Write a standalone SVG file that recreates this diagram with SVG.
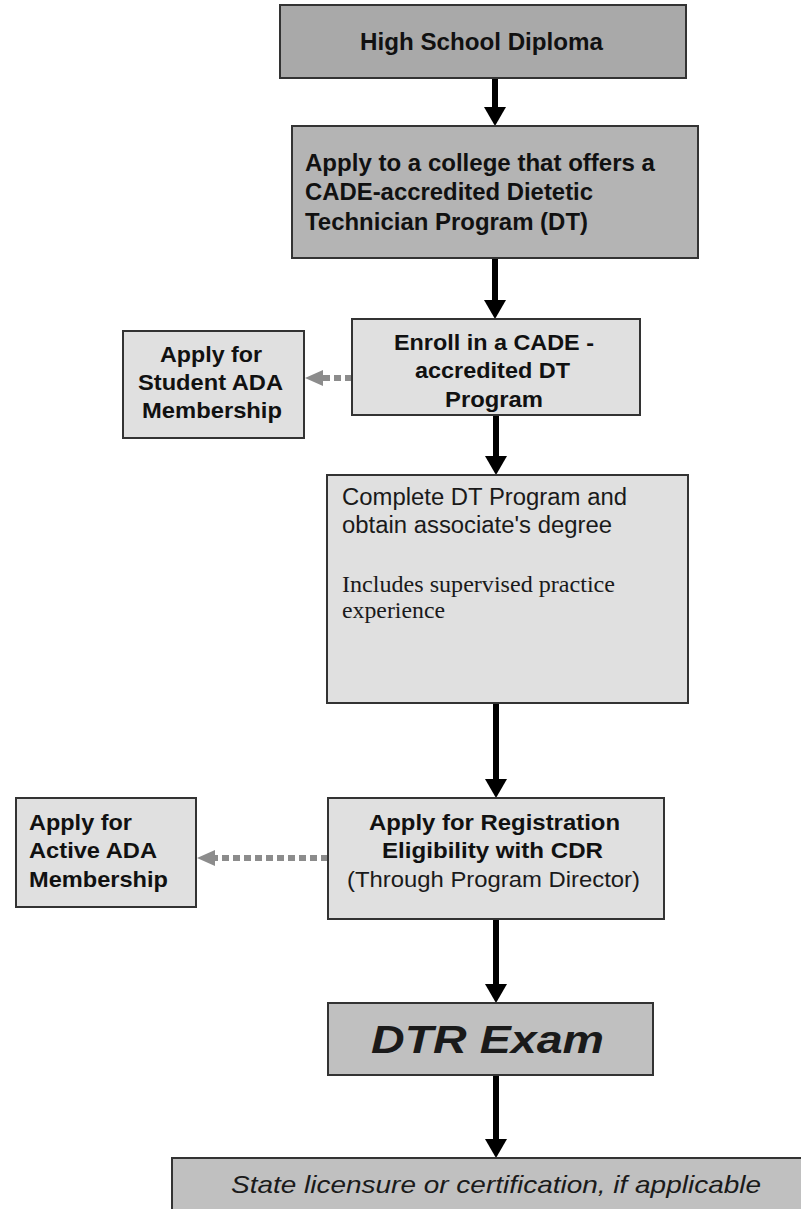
<svg xmlns="http://www.w3.org/2000/svg" width="801" height="1209" viewBox="0 0 801 1209">
<style>
.box{stroke:#333;stroke-width:2}
.dark{fill:#a9a9a9}
.mid{fill:#b4b4b4}
.mid2{fill:#c0c0c0}
.light{fill:#e0e0e0}
.b{font-family:"Liberation Sans",Arial,sans-serif;font-weight:bold;fill:#111}
.r{font-family:"Liberation Sans",Arial,sans-serif;fill:#1a1a1a}
.s{font-family:"Liberation Serif","Times New Roman",serif;fill:#1a1a1a}
.i{font-family:"Liberation Sans",Arial,sans-serif;font-style:italic;fill:#1a1a1a}
.solid{stroke:#000;stroke-width:6;fill:none}
.dash{stroke:#8c8c8c;stroke-width:6;stroke-dasharray:7 4;fill:none}
</style>
<defs>
<marker id="ah" markerUnits="userSpaceOnUse" markerWidth="19" markerHeight="22" viewBox="0 0 19 22" refX="9" refY="11" orient="auto"><path d="M0,0 L19,11 L0,22 Z" fill="#000"/></marker>
<marker id="ag" markerUnits="userSpaceOnUse" markerWidth="18" markerHeight="16" viewBox="0 0 18 16" refX="10" refY="8" orient="auto"><path d="M0,0 L18,8 L0,16 Z" fill="#8c8c8c"/></marker>
</defs>
<rect width="801" height="1209" fill="#fff"/>
<g id="connectors">
<line class="solid" x1="495" y1="78" x2="495" y2="116" marker-end="url(#ah)"/>
<line class="solid" x1="495" y1="258" x2="495" y2="309" marker-end="url(#ah)"/>
<line class="solid" x1="496" y1="415" x2="496" y2="465" marker-end="url(#ah)"/>
<line class="solid" x1="496" y1="703" x2="496" y2="788" marker-end="url(#ah)"/>
<line class="solid" x1="496" y1="919" x2="496" y2="993" marker-end="url(#ah)"/>
<line class="solid" x1="496" y1="1075" x2="496" y2="1148" marker-end="url(#ah)"/>
<line class="dash" x1="352" y1="378" x2="313" y2="378" marker-end="url(#ag)"/>
<line class="dash" x1="328" y1="858" x2="205" y2="858" marker-end="url(#ag)"/>
</g>
<g id="n1">
<rect class="box dark" x="280" y="5" width="406" height="73"/>
<text class="b" x="360" y="50" font-size="23" textLength="243" lengthAdjust="spacingAndGlyphs">High School Diploma</text>
</g>
<g id="n2">
<rect class="box mid" x="292" y="126" width="406" height="132"/>
<text class="b" x="305" y="171" font-size="23" textLength="350" lengthAdjust="spacingAndGlyphs">Apply to a college that offers a</text>
<text class="b" x="305" y="200" font-size="23" textLength="288" lengthAdjust="spacingAndGlyphs">CADE-accredited Dietetic</text>
<text class="b" x="305" y="230" font-size="23" textLength="283" lengthAdjust="spacingAndGlyphs">Technician Program (DT)</text>
</g>
<g id="n3">
<rect class="box light" x="352" y="319" width="288" height="96"/>
<text class="b" x="394" y="350" font-size="22" textLength="200" lengthAdjust="spacingAndGlyphs">Enroll in a CADE -</text>
<text class="b" x="415" y="378" font-size="22" textLength="155" lengthAdjust="spacingAndGlyphs">accredited DT</text>
<text class="b" x="445" y="407" font-size="22" textLength="98" lengthAdjust="spacingAndGlyphs">Program</text>
</g>
<g id="n4">
<rect class="box light" x="123" y="331" width="181" height="107"/>
<text class="b" x="160" y="362" font-size="22" textLength="102" lengthAdjust="spacingAndGlyphs">Apply for</text>
<text class="b" x="138" y="390" font-size="22" textLength="145" lengthAdjust="spacingAndGlyphs">Student ADA</text>
<text class="b" x="142" y="418" font-size="22" textLength="140" lengthAdjust="spacingAndGlyphs">Membership</text>
</g>
<g id="n5">
<rect class="box light" x="327" y="475" width="361" height="228"/>
<text class="r" x="342" y="505" font-size="23" textLength="285" lengthAdjust="spacingAndGlyphs">Complete DT Program and</text>
<text class="r" x="342" y="533" font-size="23" textLength="270" lengthAdjust="spacingAndGlyphs">obtain associate's degree</text>
<text class="s" x="342" y="592" font-size="23" textLength="273" lengthAdjust="spacingAndGlyphs">Includes supervised practice</text>
<text class="s" x="342" y="618" font-size="23" textLength="103" lengthAdjust="spacingAndGlyphs">experience</text>
</g>
<g id="n6">
<rect class="box light" x="328" y="798" width="336" height="121"/>
<text class="b" x="369" y="830" font-size="22" textLength="251" lengthAdjust="spacingAndGlyphs">Apply for Registration</text>
<text class="b" x="382" y="858" font-size="22" textLength="221" lengthAdjust="spacingAndGlyphs">Eligibility with CDR</text>
<text class="r" x="347" y="887" font-size="22" textLength="293" lengthAdjust="spacingAndGlyphs">(Through Program Director)</text>
</g>
<g id="n7">
<rect class="box light" x="16" y="798" width="180" height="109"/>
<text class="b" x="29" y="830" font-size="22" textLength="103" lengthAdjust="spacingAndGlyphs">Apply for</text>
<text class="b" x="29" y="858" font-size="22" textLength="128" lengthAdjust="spacingAndGlyphs">Active ADA</text>
<text class="b" x="29" y="887" font-size="22" textLength="139" lengthAdjust="spacingAndGlyphs">Membership</text>
</g>
<g id="n8">
<rect class="box mid2" x="328" y="1003" width="325" height="72"/>
<text class="i" x="371" y="1053" font-size="39" font-weight="bold" textLength="233" lengthAdjust="spacingAndGlyphs">DTR Exam</text>
</g>
<g id="n9">
<rect class="box mid2" x="172" y="1158" width="640" height="70"/>
<text class="i" x="231" y="1193" font-size="24" textLength="530" lengthAdjust="spacingAndGlyphs">State licensure or certification, if applicable</text>
</g>
</svg>
